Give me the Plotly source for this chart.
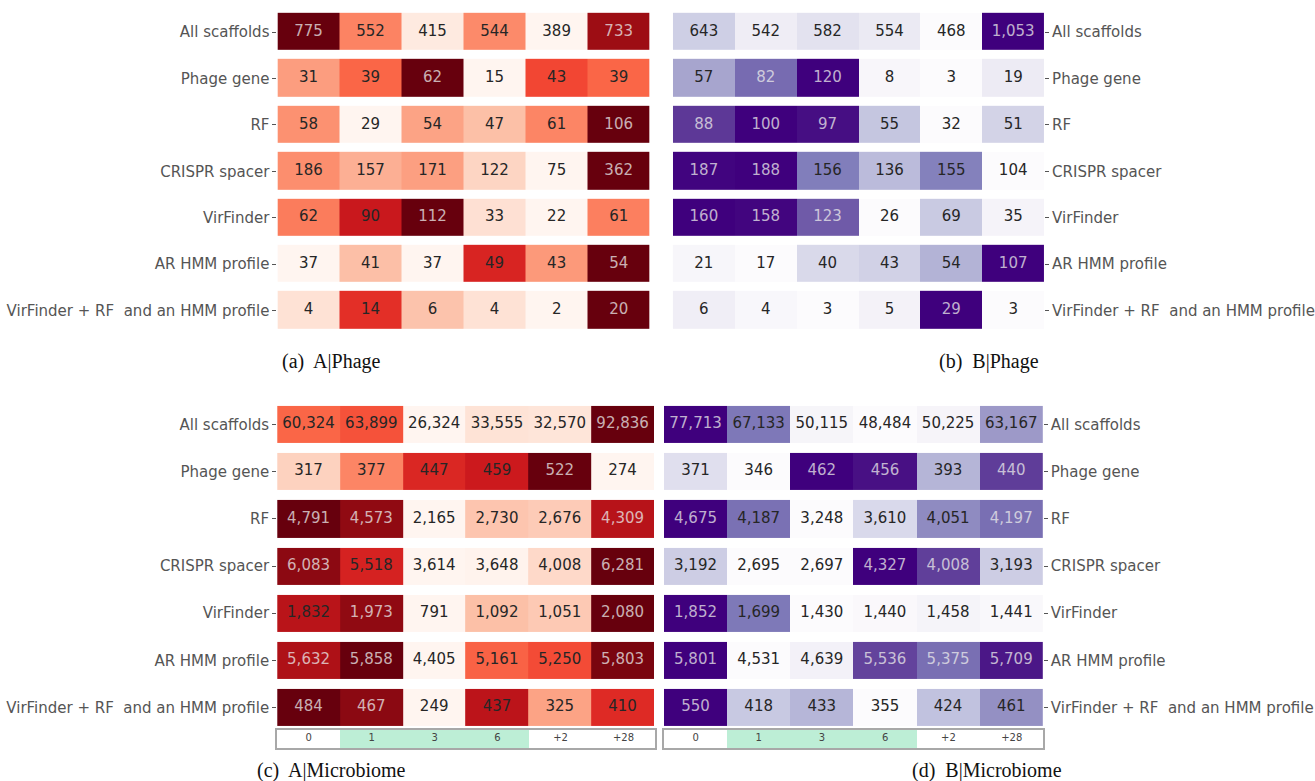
import plotly.graph_objects as go
from plotly.colors import sequential

W, H = 1315, 781

# Row and column categories shared by all four panels
row_labels = [
    "All scaffolds",
    "Phage gene",
    "RF",
    "CRISPR spacer",
    "VirFinder",
    "AR HMM profile",
    "VirFinder + RF  and an HMM profile",
]
column_labels = ["0", "1", "3", "6", "+2", "+28"]
column_highlight = [0, 1, 1, 1, 0, 0]

# Counts per row (one list per detection method)
a_phage = [
    [775, 552, 415, 544, 389, 733],
    [31, 39, 62, 15, 43, 39],
    [58, 29, 54, 47, 61, 106],
    [186, 157, 171, 122, 75, 362],
    [62, 90, 112, 33, 22, 61],
    [37, 41, 37, 49, 43, 54],
    [4, 14, 6, 4, 2, 20],
]
b_phage = [
    [643, 542, 582, 554, 468, 1053],
    [57, 82, 120, 8, 3, 19],
    [88, 100, 97, 55, 32, 51],
    [187, 188, 156, 136, 155, 104],
    [160, 158, 123, 26, 69, 35],
    [21, 17, 40, 43, 54, 107],
    [6, 4, 3, 5, 29, 3],
]
a_microbiome = [
    [60324, 63899, 26324, 33555, 32570, 92836],
    [317, 377, 447, 459, 522, 274],
    [4791, 4573, 2165, 2730, 2676, 4309],
    [6083, 5518, 3614, 3648, 4008, 6281],
    [1832, 1973, 791, 1092, 1051, 2080],
    [5632, 5858, 4405, 5161, 5250, 5803],
    [484, 467, 249, 437, 325, 410],
]
b_microbiome = [
    [77713, 67133, 50115, 48484, 50225, 63167],
    [371, 346, 462, 456, 393, 440],
    [4675, 4187, 3248, 3610, 4051, 4197],
    [3192, 2695, 2697, 4327, 4008, 3193],
    [1852, 1699, 1430, 1440, 1458, 1441],
    [5801, 4531, 4639, 5536, 5375, 5709],
    [550, 418, 433, 355, 424, 461],
]

captions = ["(a)  A|Phage", "(b)  B|Phage", "(c)  A|Microbiome", "(d)  B|Microbiome"]

LABEL_FONT = "DejaVu Sans"
LABEL_COLOR = "#555555"
DARK_TEXT = "#262626"
LIGHT_TEXT = "rgba(235,235,235,0.75)"


def px_x(a, b):
    return [a / W, b / W]


def px_y(top, bottom):
    return [1 - bottom / H, 1 - top / H]


def row_normalise(rows):
    out = []
    for r in rows:
        lo, hi = min(r), max(r)
        out.append([(v - lo) / (hi - lo) if hi > lo else 0.0 for v in r])
    return out


fig = go.Figure()
axis_count = [0]


def new_axes():
    axis_count[0] += 1
    n = axis_count[0]
    xa = "xaxis" if n == 1 else f"xaxis{n}"
    ya = "yaxis" if n == 1 else f"yaxis{n}"
    xr = "x" if n == 1 else f"x{n}"
    yr = "y" if n == 1 else f"y{n}"
    return xa, ya, xr, yr


def add_panel(values, scale, threshold, xdom, ydom, side, ygap):
    xa, ya, xr, yr = new_axes()
    z = row_normalise(values)
    xs = list(range(len(column_labels)))
    fig.add_trace(go.Heatmap(
        z=z, x=xs, y=row_labels, colorscale=scale, zmin=0, zmax=1,
        showscale=False, xgap=0, ygap=ygap, hoverinfo="skip",
        xaxis=xr, yaxis=yr,
    ))
    tx, ty, tt, tc = [], [], [], []
    for i, row in enumerate(values):
        for j, v in enumerate(row):
            tx.append(xs[j])
            ty.append(row_labels[i])
            tt.append(f"{v:,}")
            tc.append(LIGHT_TEXT if z[i][j] > threshold else DARK_TEXT)
    fig.add_trace(go.Scatter(
        x=tx, y=ty, text=tt, mode="text", textposition="middle center",
        textfont=dict(family=LABEL_FONT, size=15, color=tc),
        hoverinfo="skip", showlegend=False, xaxis=xr, yaxis=yr,
    ))
    fig.update_layout(**{
        xa: dict(domain=xdom, range=[-0.5, len(xs) - 0.5], visible=False,
                 anchor=yr, fixedrange=True),
        ya: dict(domain=ydom, anchor=xr, side=side, autorange="reversed",
                 type="category", showgrid=False, zeroline=False,
                 showline=False, ticks="outside", ticklen=4, tickwidth=1,
                 tickcolor=LABEL_COLOR,
                 tickfont=dict(family=LABEL_FONT, size=15, color=LABEL_COLOR),
                 fixedrange=True),
    })


def add_strip(xdom, ydom):
    xa, ya, xr, yr = new_axes()
    xs = list(range(len(column_labels)))
    fig.add_trace(go.Heatmap(
        z=[column_highlight], x=xs, y=[0],
        colorscale=[[0, "#ffffff"], [1, "#bdeed6"]], zmin=0, zmax=1,
        showscale=False, hoverinfo="skip", xaxis=xr, yaxis=yr,
    ))
    fig.add_trace(go.Scatter(
        x=xs, y=[0] * len(xs), text=column_labels, mode="text",
        textfont=dict(family=LABEL_FONT, size=10, color="#444444"),
        hoverinfo="skip", showlegend=False, xaxis=xr, yaxis=yr,
    ))
    frame = dict(showline=True, mirror=True, linecolor="#a8a8a8",
                 linewidth=1.5, showgrid=False, zeroline=False,
                 showticklabels=False, ticks="", fixedrange=True)
    fig.update_layout(**{
        xa: dict(domain=xdom, range=[-0.5, len(xs) - 0.5], anchor=yr, **frame),
        ya: dict(domain=ydom, range=[-0.5, 0.5], anchor=xr, **frame),
    })


reds = sequential.Reds
purples = sequential.Purples

top_y = px_y(8.8, 333.7)
bottom_y = px_y(400.9, 731.1)

add_panel(a_phage, reds, 0.81, px_x(278.3, 651.7), top_y, "left", 9)
add_panel(b_phage, purples, 0.661, px_x(675, 1047.3), top_y, "right", 9)
add_panel(a_microbiome, reds, 0.81, px_x(278, 656), bottom_y, "left", 10)
add_panel(b_microbiome, purples, 0.661, px_x(666, 1046), bottom_y, "right", 10)
add_strip(px_x(278, 657), px_y(729.5, 748.3))
add_strip(px_x(666, 1046.5), px_y(729.5, 748.3))

caption_pos = [(333, 361), (992, 361), (333, 770), (990, 770)]
for text, (cx, cy) in zip(captions, caption_pos):
    fig.add_annotation(
        text=text, x=cx / W, y=1 - cy / H, xref="paper", yref="paper",
        showarrow=False, xanchor="center", yanchor="middle",
        font=dict(family="Liberation Serif, Times New Roman, serif", size=20,
                  color="#111111"),
    )

fig.update_layout(
    width=W, height=H, margin=dict(l=0, r=0, t=0, b=0),
    paper_bgcolor="white", plot_bgcolor="white", showlegend=False,
)

fig.write_html("out.html")
